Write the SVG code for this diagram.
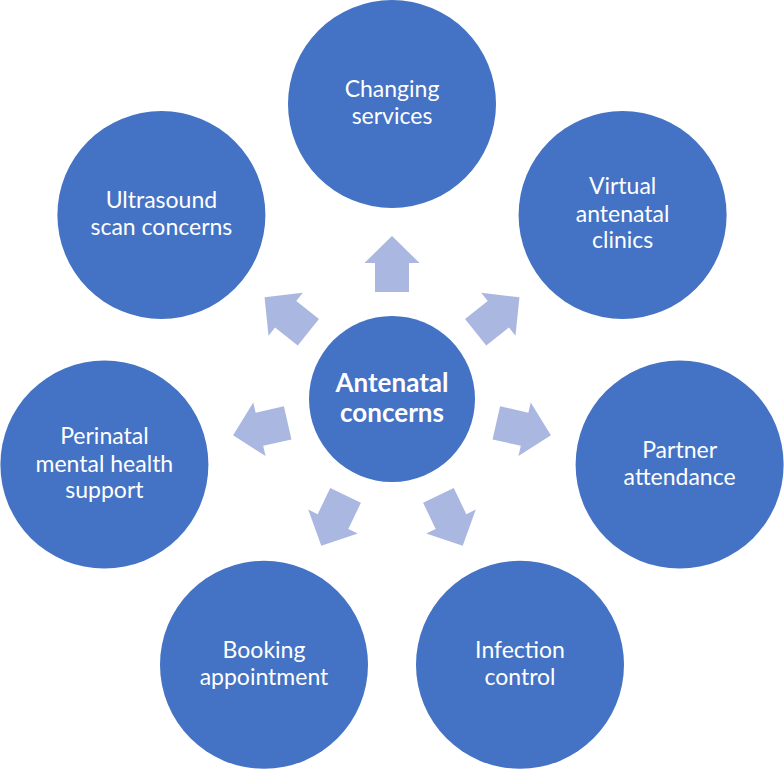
<svg xmlns="http://www.w3.org/2000/svg" width="784" height="769" viewBox="0 0 784 769">
<style>
.node{fill:#4472C4}
.lbl{fill:#ffffff;font-family:Lato,"Liberation Sans",sans-serif;font-size:23px;text-anchor:middle}
.ctr{font-weight:bold;font-size:26px}
.arr{fill:#AAB7E0}
</style>
<defs>
<polygon id="arrow" points="-17,-107 -17,-136 -27.5,-136 0,-163 27.5,-136 17,-136 17,-107"/>
</defs>
<rect width="784" height="769" fill="#ffffff"/>
<g id="connectors" class="arr">
<use href="#arrow" transform="translate(392 399) rotate(0)"/>
<use href="#arrow" transform="translate(392 399) rotate(51.4286)"/>
<use href="#arrow" transform="translate(392 399) rotate(102.857)"/>
<use href="#arrow" transform="translate(392 399) rotate(154.286)"/>
<use href="#arrow" transform="translate(392 399) rotate(205.714)"/>
<use href="#arrow" transform="translate(392 399) rotate(257.143)"/>
<use href="#arrow" transform="translate(392 399) rotate(308.571)"/>
</g>
<g id="center">
<circle class="node" cx="392" cy="399" r="83"/>
<text class="lbl ctr" x="392" y="392">Antenatal</text>
<text class="lbl ctr" x="392" y="422">concerns</text>
</g>
<g id="changing-services">
<circle class="node" cx="392" cy="104" r="104"/>
<text class="lbl" x="392" y="97">Changing</text>
<text class="lbl" x="392" y="124">services</text>
</g>
<g id="virtual-clinics">
<circle class="node" cx="622.6" cy="215" r="104"/>
<text class="lbl" x="622.6" y="194">Virtual</text>
<text class="lbl" x="622.6" y="222">antenatal</text>
<text class="lbl" x="622.6" y="248">clinics</text>
</g>
<g id="partner-attendance">
<circle class="node" cx="679.6" cy="464.6" r="104"/>
<text class="lbl" x="679.6" y="458">Partner</text>
<text class="lbl" x="679.6" y="485">attendance</text>
</g>
<g id="infection-control">
<circle class="node" cx="520" cy="664.8" r="104"/>
<text class="lbl" x="520" y="658">Infection</text>
<text class="lbl" x="520" y="685">control</text>
</g>
<g id="booking-appointment">
<circle class="node" cx="264" cy="664.8" r="104"/>
<text class="lbl" x="264" y="658">Booking</text>
<text class="lbl" x="264" y="685">appointment</text>
</g>
<g id="perinatal-mental-health">
<circle class="node" cx="104.4" cy="464.6" r="104"/>
<text class="lbl" x="104.4" y="444">Perinatal</text>
<text class="lbl" x="104.4" y="472">mental health</text>
<text class="lbl" x="104.4" y="498">support</text>
</g>
<g id="ultrasound-scan">
<circle class="node" cx="161.4" cy="215" r="104"/>
<text class="lbl" x="161.4" y="208">Ultrasound</text>
<text class="lbl" x="161.4" y="235">scan concerns</text>
</g>
</svg>
